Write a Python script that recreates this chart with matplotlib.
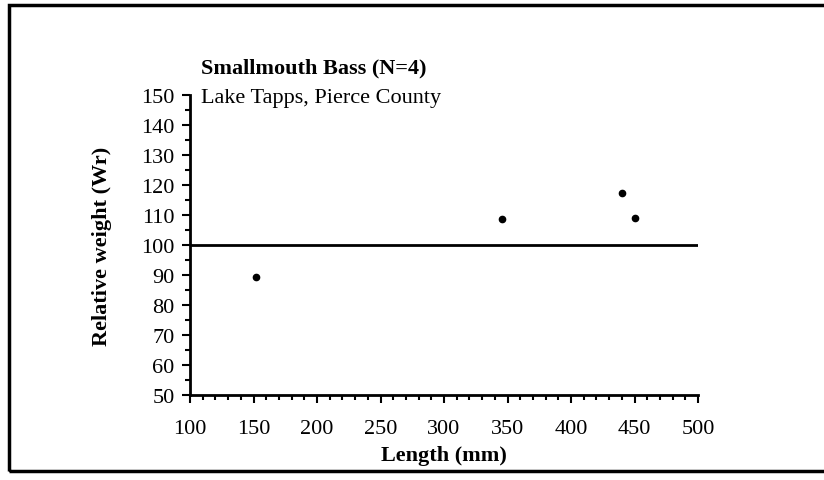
import matplotlib
matplotlib.use("Agg")
import matplotlib.pyplot as plt
from matplotlib.patches import Rectangle
from matplotlib.ticker import MultipleLocator

length_mm = [152, 346, 440, 450]
rel_weight = [89.5, 108.7, 117.2, 109.1]
ref_value = 100
title = "Smallmouth Bass (N=4)"
subtitle = "Lake Tapps, Pierce County"

plt.rcParams['font.family'] = ['Liberation Serif', 'DejaVu Serif']

W, H = 824, 481
fig = plt.figure(figsize=(W/100, H/100), dpi=100)
ax = fig.add_axes([190/W, 1-396/H, (698-190)/W, (396-96)/H])

ax.plot(length_mm, rel_weight, 'o', color='black', markersize=4.5, clip_on=False)
ax.axhline(ref_value, color='black', lw=2)

ax.set_xlim(100, 500)
ax.set_ylim(50, 150)
ax.xaxis.set_major_locator(MultipleLocator(50))
ax.xaxis.set_minor_locator(MultipleLocator(10))
ax.yaxis.set_major_locator(MultipleLocator(10))
ax.yaxis.set_minor_locator(MultipleLocator(5))
for s in ['top', 'right']:
    ax.spines[s].set_visible(False)
for s in ['left', 'bottom']:
    ax.spines[s].set_linewidth(2)
ax.tick_params(which='major', length=6, width=1.5, direction='out', labelsize=16)
ax.tick_params(axis='x', which='major', pad=11)
ax.tick_params(axis='y', which='major', pad=5)
ax.tick_params(which='minor', length=3.5, width=1.5, direction='out')

ax.set_xlabel("Length (mm)", fontsize=16, fontweight='bold', labelpad=5)
ax.set_ylabel("Relative weight (Wr)", fontsize=16, fontweight='bold', labelpad=21)

fig.text(201/W, 1-68/H, title, fontsize=16, fontweight='bold', ha='left', va='center')
fig.text(201/W, 1-98/H, subtitle, fontsize=16, ha='left', va='center')

fig.patches.append(Rectangle((9/W, 1-472/H), (830-9)/W, (472-6)/H, transform=fig.transFigure,
                             fill=False, edgecolor='black', lw=2.5))

fig.savefig("out.png", dpi=100)
